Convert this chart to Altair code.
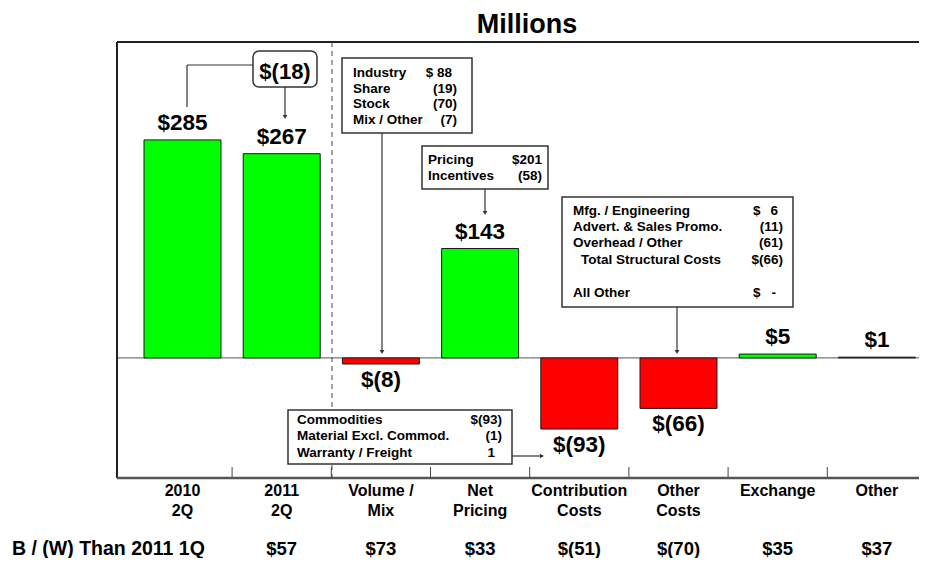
import altair as alt
import pandas as pd

# ---------------- data ----------------
cat_line1 = ["2010", "2011", "Volume /", "Net", "Contribution", "Other", "Exchange", "Other"]
cat_line2 = ["2Q", "2Q", "Mix", "Pricing", "Costs", "Costs", "", ""]
values = [285, 267, -8, 143, -93, -66, 5, 1]
value_labels = ["$285", "$267", "$(8)", "$143", "$(93)", "$(66)", "$5", "$1"]
bw_title = "B / (W) Than 2011 1Q"
bw_values = ["", "$57", "$73", "$33", "$(51)", "$(70)", "$35", "$37"]

change_label = "$(18)"
volume_items = ["Industry", "Share", "Stock", "Mix / Other"]
volume_values = ["$ 88", "(19)", "(70)", "(7)"]
pricing_items = ["Pricing", "Incentives"]
pricing_values = ["$201", "(58)"]
other_items = ["Mfg. / Engineering", "Advert. & Sales Promo.", "Overhead / Other",
               "Total Structural Costs", "All Other"]
other_values = ["6", "(11)", "(61)", "$(66)", "-"]
contrib_items = ["Commodities", "Material Excl. Commod.", "Warranty / Freight"]
contrib_values = ["$(93)", "(1)", "1"]
title_text = "Millions"

# ---------------- layout ----------------
FONT = "Liberation Sans"
OX, OY = 117, 42          # plot origin on the page
W, H = 802, 436
STEP = 99.2               # px per category
XD = [-65.5 / STEP, (W - 65.5) / STEP]
YD = [-157, 413]
HALF = 0.388
xs = alt.Scale(domain=XD, nice=False, zero=False)
ys = alt.Scale(domain=YD, nice=False, zero=False)


def X(px):
    return XD[0] + (px - OX) / W * (XD[1] - XD[0])


def Y(py):
    return YD[1] - (py - OY) / H * (YD[1] - YD[0])


n = len(values)
bars = pd.DataFrame({
    "i": list(range(n)),
    "lo": [i - HALF for i in range(n)],
    "hi": [i + HALF for i in range(n)],
    "value": values,
    "zero": [0] * n,
    "label": value_labels,
    "cat": [a + "\n" + b for a, b in zip(cat_line1, cat_line2)],
    "bw": bw_values,
    "cy": [Y(496)] * n,
    "by": [Y(555)] * n,
})
ticks = pd.DataFrame({"b": [i + 0.5 for i in range(n - 1)], "t0": Y(467), "t1": Y(478)})

rules, rects, texts, points = [], [], [], []


def rule(x1, y1, x2, y2, color="#333", w=1.2):
    rules.append({"x1": X(x1), "y1": Y(y1), "x2": X(x2), "y2": Y(y2), "c": color, "w": w})


def box(x1, y1, x2, y2):
    rects.append({"x1": X(x1), "y1": Y(y1), "x2": X(x2), "y2": Y(y2)})


def txt(s, x, y, size=13.5, align="left"):
    texts.append({"x": X(x), "y": Y(y), "t": s, "s": size, "a": align})


def arrow(x, y, shape="triangle-down"):
    points.append({"x": X(x), "y": Y(y), "shape": shape})


# frame
rule(117, 42, 117, 478, color="#222", w=2)
rule(117, 42, OX + W, 42, color="#222", w=2)
rule(117, 478, OX + W, 478, color="#555", w=2.5)

# title and B/(W) heading
txt(title_text, 527, 33, size=27, align="center")
txt(bw_title, 12, 555, size=19.5)

# $(18) callout connectors
rule(187, 65, 187, 107)
rule(187, 65, 253, 65)
rule(285, 87, 285, 116)
arrow(285, 117)
txt(change_label, 285, 79, size=22, align="center")

# Volume / Mix box
rule(382, 133, 382, 350)
arrow(382, 352)
box(342, 58, 472, 133)
for k, (it, v) in enumerate(zip(volume_items, volume_values)):
    yb = [77, 93, 108, 124][k]
    txt(it, 353, yb)
    txt(v, 452 if k == 0 else 457, yb, align="right")

# Net pricing box
rule(485, 189, 485, 211)
arrow(485, 213)
box(422, 146, 548, 189)
for k, (it, v) in enumerate(zip(pricing_items, pricing_values)):
    yb = [164, 180][k]
    txt(it, 428, yb)
    txt(v, 542, yb, align="right")

# Other costs box
rule(677, 307, 677, 350)
arrow(677, 352)
box(562, 197, 793, 307)
oy = [215, 231, 247, 264, 297]
for k, (it, v) in enumerate(zip(other_items, other_values)):
    txt(it, 581 if k == 3 else 573, oy[k])
    if k in (0, 4):
        txt("$", 753, oy[k])
        txt(v, 778 if k == 0 else 776, oy[k], align="right")
    else:
        txt(v, 783, oy[k], align="right")
rule(749, 251, 783, 251, color="#000", w=1)

# Contribution costs box
rule(512, 456, 541, 456)
arrow(542, 456, "triangle-right")
box(288, 410, 512, 464)
cy = [424, 440, 457]
for k, (it, v) in enumerate(zip(contrib_items, contrib_values)):
    txt(it, 297, cy[k])
    txt(v, 495 if k == 2 else 502, cy[k], align="right")

rules_df = pd.DataFrame(rules)
rects_df = pd.DataFrame(rects)
texts_df = pd.DataFrame(texts)
points_df = pd.DataFrame(points)
round_df = pd.DataFrame([{"x1": X(253), "y1": Y(51), "x2": X(317), "y2": Y(87)}])
dash_df = pd.DataFrame([{"x": X(332), "y1": Y(42), "y2": Y(478)}])
zero_df = pd.DataFrame([{"x1": XD[0], "x2": XD[1], "y": 0}])

layers = []

# zero line
layers.append(alt.Chart(zero_df).mark_rule(color="#555", strokeWidth=1).encode(
    x=alt.X("x1:Q", scale=xs, axis=None), x2="x2:Q",
    y=alt.Y("y:Q", scale=ys, axis=None)))

# dashed separator
layers.append(alt.Chart(dash_df).mark_rule(color="#444", strokeWidth=1, strokeDash=[5, 4]).encode(
    x=alt.X("x:Q", scale=xs, axis=None),
    y=alt.Y("y1:Q", scale=ys, axis=None), y2="y2:Q"))

# bars
layers.append(alt.Chart(bars).mark_bar(stroke="#1a1a1a", strokeWidth=1).encode(
    x=alt.X("lo:Q", scale=xs, axis=None), x2="hi:Q",
    y=alt.Y("value:Q", scale=ys, axis=None), y2="zero:Q",
    color=alt.condition("datum.value >= 0", alt.value("#00FF00"), alt.value("#FF0000")),
))

# value labels
layers.append(alt.Chart(bars).transform_filter("datum.value >= 0").mark_text(
    font=FONT, fontSize=22.5, fontWeight="bold", dy=-10, baseline="alphabetic", color="#000"
).encode(x=alt.X("i:Q", scale=xs, axis=None), y=alt.Y("value:Q", scale=ys, axis=None),
         text="label:N"))
layers.append(alt.Chart(bars).transform_filter("datum.value < 0").mark_text(
    font=FONT, fontSize=22.5, fontWeight="bold", dy=23, baseline="alphabetic", color="#000"
).encode(x=alt.X("i:Q", scale=xs, axis=None), y=alt.Y("value:Q", scale=ys, axis=None),
         text="label:N"))

# category labels
layers.append(alt.Chart(bars).mark_text(
    font=FONT, fontSize=16, fontWeight="bold", baseline="alphabetic", lineBreak="\n",
    lineHeight=20, color="#000"
).encode(x=alt.X("i:Q", scale=xs, axis=None), y=alt.Y("cy:Q", scale=ys, axis=None),
         text="cat:N"))

# B/(W) row
layers.append(alt.Chart(bars).mark_text(
    font=FONT, fontSize=18.5, fontWeight="bold", baseline="alphabetic", color="#000"
).encode(x=alt.X("i:Q", scale=xs, axis=None), y=alt.Y("by:Q", scale=ys, axis=None),
         text="bw:N"))

# tick marks between categories
layers.append(alt.Chart(ticks).mark_rule(color="#444", strokeWidth=1).encode(
    x=alt.X("b:Q", scale=xs, axis=None),
    y=alt.Y("t0:Q", scale=ys, axis=None), y2="t1:Q"))

# frame + connectors
layers.append(alt.Chart(rules_df).mark_rule().encode(
    x=alt.X("x1:Q", scale=xs, axis=None), x2="x2:Q",
    y=alt.Y("y1:Q", scale=ys, axis=None), y2="y2:Q",
    color=alt.Color("c:N", scale=None),
    strokeWidth=alt.StrokeWidth("w:Q", scale=None)))

# boxes
layers.append(alt.Chart(rects_df).mark_rect(fill="white", stroke="#333", strokeWidth=1.5).encode(
    x=alt.X("x1:Q", scale=xs, axis=None), x2="x2:Q",
    y=alt.Y("y1:Q", scale=ys, axis=None), y2="y2:Q"))
layers.append(alt.Chart(round_df).mark_rect(fill="white", stroke="#333", strokeWidth=1.5,
                                            cornerRadius=6).encode(
    x=alt.X("x1:Q", scale=xs, axis=None), x2="x2:Q",
    y=alt.Y("y1:Q", scale=ys, axis=None), y2="y2:Q"))

# arrowheads
layers.append(alt.Chart(points_df).mark_point(filled=True, size=22, color="#333", opacity=1).encode(
    x=alt.X("x:Q", scale=xs, axis=None), y=alt.Y("y:Q", scale=ys, axis=None),
    shape=alt.Shape("shape:N", scale=None)))

# annotation texts
for al in ["left", "center", "right"]:
    layers.append(alt.Chart(texts_df).transform_filter(f"datum.a == '{al}'").mark_text(
        font=FONT, fontWeight="bold", baseline="alphabetic", align=al, color="#000"
    ).encode(x=alt.X("x:Q", scale=xs, axis=None), y=alt.Y("y:Q", scale=ys, axis=None),
             text="t:N", size=alt.Size("s:Q", scale=None)))

chart = alt.layer(*layers).properties(
    width=W, height=H,
    padding={"left": 109, "top": 34, "right": 0, "bottom": 80},
    autosize=alt.AutoSizeParams(type="none"),
).configure_view(stroke=None)

chart.save("out.html", embed_options={"renderer": "svg", "actions": False})
